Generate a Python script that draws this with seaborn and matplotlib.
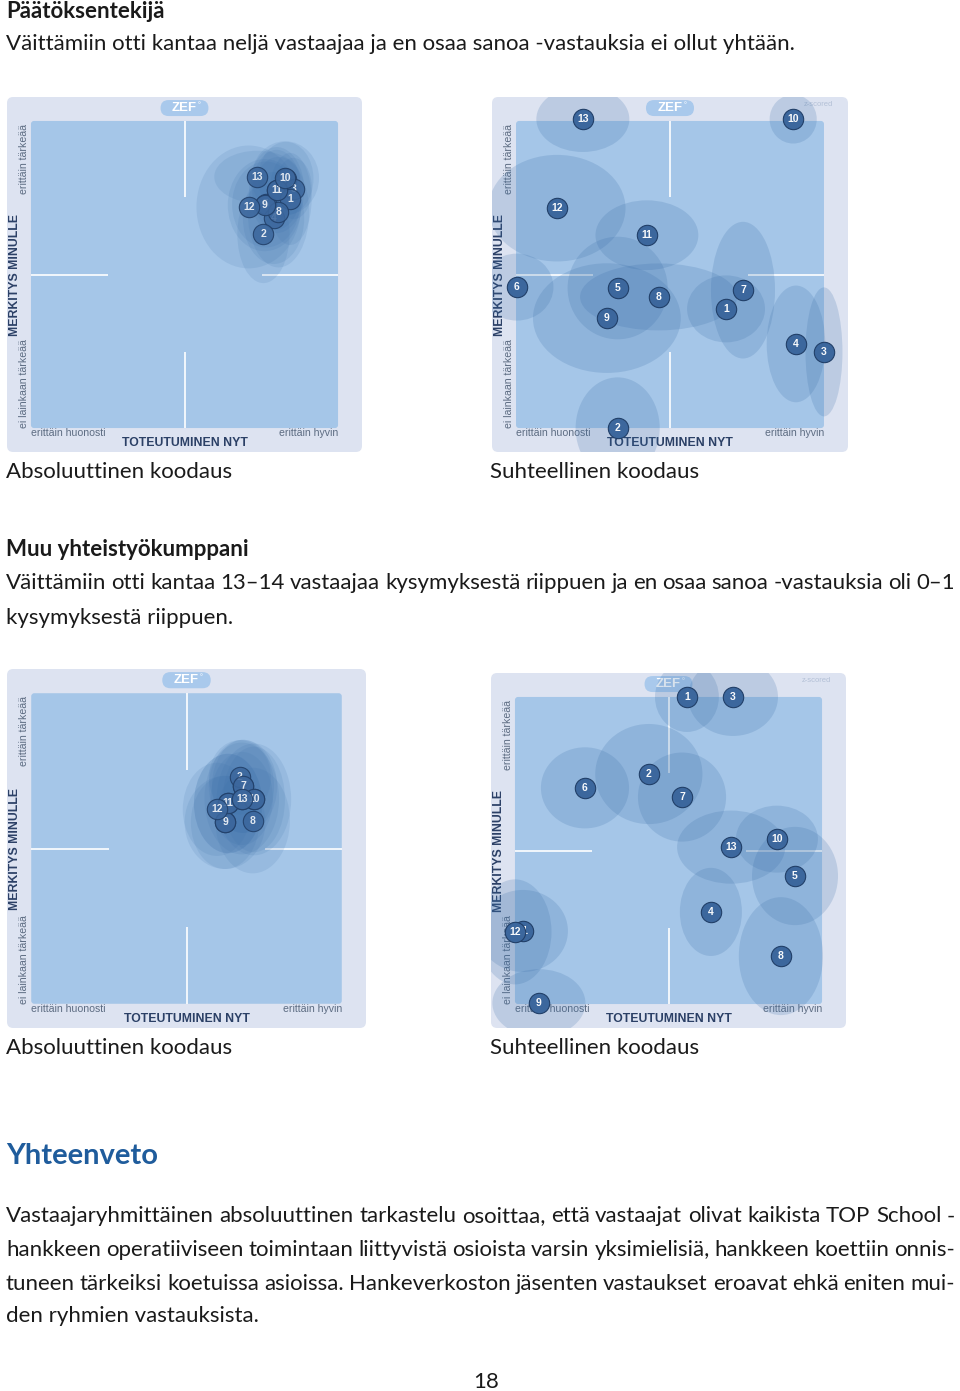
import numpy as np
import pandas as pd
import seaborn as sns
import matplotlib
matplotlib.use("Agg")
import matplotlib.pyplot as plt
from matplotlib.patches import Ellipse, FancyBboxPatch

# ---------------- data ----------------
# Panel 1: Päätöksentekijä, absoluuttinen koodaus (inner square = 0..1)
p1_labels = [5, 6, 7, 4, 3, 1, 2, 8, 9, 11, 10, 12, 13]
p1_x = [0.765, 0.80, 0.83, 0.79, 0.855, 0.844, 0.757, 0.806, 0.761, 0.80, 0.828, 0.709, 0.737]
p1_y = [0.728, 0.776, 0.812, 0.684, 0.78, 0.746, 0.632, 0.703, 0.726, 0.775, 0.814, 0.72, 0.818]
p1_w = [0.22, 0.16, 0.18, 0.20, 0.12, 0.14, 0.17, 0.20, 0.24, 0.18, 0.22, 0.34, 0.28]
p1_h = [0.28, 0.26, 0.24, 0.30, 0.20, 0.30, 0.32, 0.36, 0.30, 0.28, 0.24, 0.40, 0.17]

# Panel 2: Päätöksentekijä, suhteellinen koodaus
p2_labels = [13, 10, 12, 11, 6, 5, 8, 9, 7, 1, 4, 3, 2]
p2_x = [0.217, 0.90, 0.133, 0.425, 0.003, 0.33, 0.463, 0.295, 0.737, 0.682, 0.909, 1.0, 0.33]
p2_y = [1.006, 1.006, 0.716, 0.628, 0.459, 0.456, 0.427, 0.358, 0.449, 0.388, 0.274, 0.248, 0.0]
p2_w = [0.302, 0.153, 0.445, 0.334, 0.237, 0.325, 0.51, 0.48, 0.208, 0.253, 0.19, 0.12, 0.273]
p2_h = [0.214, 0.159, 0.347, 0.227, 0.218, 0.334, 0.218, 0.357, 0.445, 0.218, 0.38, 0.42, 0.33]

# Panel 3: Muu yhteistyökumppani, absoluuttinen koodaus
p3_labels = [3, 4, 5, 6, 1, 2, 7, 9, 8, 11, 10, 12, 13]
p3_x = [0.682, 0.634, 0.717, 0.678, 0.624, 0.672, 0.682, 0.624, 0.713, 0.634, 0.717, 0.598, 0.678]
p3_y = [0.70, 0.645, 0.658, 0.661, 0.584, 0.729, 0.70, 0.584, 0.59, 0.645, 0.658, 0.626, 0.661]
p3_w = [0.20, 0.22, 0.24, 0.20, 0.26, 0.20, 0.22, 0.22, 0.24, 0.22, 0.20, 0.22, 0.24]
p3_h = [0.30, 0.32, 0.36, 0.30, 0.30, 0.24, 0.30, 0.30, 0.34, 0.32, 0.34, 0.30, 0.36]

# Panel 4: Muu yhteistyökumppani, suhteellinen koodaus
p4_labels = [1, 3, 2, 6, 7, 10, 13, 5, 4, 11, 12, 8, 9]
p4_x = [0.56, 0.71, 0.436, 0.228, 0.544, 0.853, 0.704, 0.912, 0.638, 0.026, 0.0, 0.866, 0.078]
p4_y = [1.0, 1.0, 0.749, 0.704, 0.674, 0.537, 0.511, 0.417, 0.30, 0.238, 0.235, 0.156, 0.003]
p4_w = [0.208, 0.293, 0.349, 0.287, 0.287, 0.267, 0.352, 0.28, 0.202, 0.293, 0.238, 0.274, 0.303]
p4_h = [0.228, 0.254, 0.326, 0.264, 0.29, 0.218, 0.238, 0.32, 0.287, 0.267, 0.342, 0.384, 0.221]

x_low, x_high, x_title = "erittäin huonosti", "erittäin hyvin", "TOTEUTUMINEN NYT"
y_high, y_low, y_title = "erittäin tärkeää", "ei lainkaan tärkeää", "MERKITYS MINULLE"

head1 = "Päätöksentekijä"
body1 = "Väittämiin otti kantaa neljä vastaajaa ja en osaa sanoa -vastauksia ei ollut yhtään."
cap_abs = "Absoluuttinen koodaus"
cap_rel = "Suhteellinen koodaus"
head2 = "Muu yhteistyökumppani"
body2 = ["Väittämiin otti kantaa 13–14 vastaajaa kysymyksestä riippuen ja en osaa sanoa -vastauksia oli 0–1",
         "kysymyksestä riippuen."]
head3 = "Yhteenveto"
body3 = ["Vastaajaryhmittäinen absoluuttinen tarkastelu osoittaa, että vastaajat olivat kaikista TOP School -",
         "hankkeen operatiiviseen toimintaan liittyvistä osioista varsin yksimielisiä, hankkeen koettiin onnis-",
         "tuneen tärkeiksi koetuissa asioissa. Hankeverkoston jäsenten vastaukset eroavat ehkä eniten mui-",
         "den ryhmien vastauksista."]
page_no = "18"

# ---------------- style ----------------
sns.set_theme(style="white")
plt.rcParams['font.family'] = ['Lato', 'DejaVu Sans']
NARROW = ['Liberation Sans Narrow', 'Liberation Sans', 'DejaVu Sans']

OUTER = '#dde3f1'
INNER = '#a5c6e8'
ELL = '#3a6ea8'
MARK = '#3c679d'
EDGE = '#213f68'
TXT = '#1a1a1a'

W, H = 960, 1391
fig = plt.figure(figsize=(W / 100, H / 100), dpi=100)
fig.patch.set_facecolor('white')
renderer = fig.canvas.get_renderer()


def fx(x):
    return x / W


def fy(y):
    return 1 - y / H


# body font size fitted to the reference line width
probe = fig.text(0, 0, body1, fontsize=14)
fs = 14 * 790 / probe.get_window_extent(renderer).width
probe.remove()
probe = fig.text(0, 0, head3, fontsize=20, fontweight='bold')
fs_h = 20 * 152 / probe.get_window_extent(renderer).width
probe.remove()


def ptext(x, yc, s, **kw):
    kw.setdefault('fontsize', fs)
    kw.setdefault('color', TXT)
    return fig.text(fx(x), fy(yc + 6.5), s, va='baseline', ha='left', **kw)


def justify(x0, x1, yc, s, **kw):
    words = s.split(' ')
    arts = [ptext(0, yc, w, **kw) for w in words]
    widths = [a.get_window_extent(renderer).width for a in arts]
    gap = (x1 - x0 - sum(widths)) / (len(words) - 1)
    x = x0
    for a, w in zip(arts, widths):
        a.set_x(fx(x))
        x += w + gap


def panel(rect, labels, xs, ys, ws, hs, absolute, zscored):
    l, t, r, b = rect
    ax = fig.add_axes([fx(l), fy(b), (r - l) / W, (b - t) / H])
    a = 0.078
    ax.set_axis_off()
    ax.add_patch(FancyBboxPatch((-a, -a), 1 + 2 * a, 1 + 2 * a,
                                boxstyle="round,pad=0,rounding_size=0.02",
                                fc=OUTER, ec='none', zorder=0))
    ax.add_patch(FancyBboxPatch((0, 0), 1, 1, boxstyle="round,pad=0,rounding_size=0.01",
                                fc=INNER, ec='none', zorder=1))
    for xx, yy in [([0.5, 0.5], [1, 0.752]), ([0.5, 0.5], [0, 0.248]),
                   ([0, 0.25], [0.5, 0.5]), ([0.753, 1], [0.5, 0.5])]:
        ax.plot(xx, yy, color='white', lw=1.4, alpha=0.85, zorder=2, solid_capstyle='butt')
    # ZEF badge
    ax.add_patch(FancyBboxPatch((0.5 - 0.078, 1.042 - 0.026), 0.156, 0.052,
                                boxstyle="round,pad=0,rounding_size=0.026",
                                fc='#a9c9ec', ec='none', zorder=2))
    ax.text(0.5, 1.041, "ZEF", color='white', fontsize=9.5, fontweight='bold',
            family=NARROW, ha='center', va='center', zorder=3)
    ax.text(0.548, 1.054, "°", color='white', fontsize=5, ha='center', va='center', zorder=3)
    if zscored:
        ax.text(1.03, 1.055, "z-scored", color='#b3c0d6', fontsize=5.5, family=NARROW,
                ha='right', va='center', zorder=3)
    # axis texts
    lab = dict(family=NARROW, color='#5d6c82', fontsize=7.6, zorder=3)
    ax.text(0.0, -0.017, x_low, ha='left', va='center', **lab)
    ax.text(1.0, -0.017, x_high, ha='right', va='center', **lab)
    ax.text(-0.023, 0.99, y_high, ha='center', va='top', rotation=90, **lab)
    ax.text(-0.023, 0.0, y_low, ha='center', va='bottom', rotation=90, **lab)
    ttl = dict(family=NARROW, color='#2b4066', fontsize=8.8, fontweight='bold', zorder=3)
    ax.text(0.5, -0.05, x_title, ha='center', va='center', **ttl)
    ax.text(-0.052, 0.5, y_title, ha='center', va='center', rotation=90, **ttl)

    df = pd.DataFrame({'label': labels, 'x': xs, 'y': ys, 'w': ws, 'h': hs})
    ealpha = 0.13 if absolute else 0.2
    for _, row in df.iterrows():
        ax.add_patch(Ellipse((row.x, row.y), row.w, row.h, fc=ELL, ec='none',
                             alpha=ealpha, zorder=3))
    malpha = 0.88 if absolute else 1.0
    for i in range(len(df)):
        sub = df.iloc[[i]]
        sns.scatterplot(data=sub, x='x', y='y', ax=ax, s=215, color=MARK, edgecolor=EDGE,
                        linewidth=0.8, alpha=malpha, zorder=5 + 2 * i, legend=False)
        ax.text(sub.x.iloc[0], sub.y.iloc[0], str(int(sub.label.iloc[0])), color='white',
                fontsize=7.5, fontweight='bold', family=['Liberation Sans', 'DejaVu Sans'],
                ha='center', va='center', zorder=6 + 2 * i,
                alpha=0.85 if absolute else 0.97)
    ax.set_xlim(-a, 1 + a)
    ax.set_ylim(-a, 1 + a)
    ax.set_xlabel('')
    ax.set_ylabel('')
    return ax


# ---------------- page text ----------------
ptext(6, 12, head1, fontweight='bold')
ptext(6, 44, body1)

panel((7, 97, 362, 452), p1_labels, p1_x, p1_y, p1_w, p1_h, True, False)
panel((492, 97, 848, 452), p2_labels, p2_x, p2_y, p2_w, p2_h, False, True)

ptext(6, 472, cap_abs)
ptext(490, 472, cap_rel)

ptext(6, 549, head2, fontweight='bold')
justify(6, 955, 583, body2[0])
ptext(6, 617, body2[1])

panel((7, 669, 366, 1028), p3_labels, p3_x, p3_y, p3_w, p3_h, True, False)
panel((491, 673, 846, 1028), p4_labels, p4_x, p4_y, p4_w, p4_h, False, True)

ptext(6, 1048, cap_abs)
ptext(490, 1048, cap_rel)

fig.text(fx(6), fy(1164), head3, fontsize=fs_h, fontweight='bold', color='#1f5c9c',
         va='baseline', ha='left')

line_y = [1216, 1250, 1283, 1316]
for i, (s, yc) in enumerate(zip(body3, line_y)):
    if i < len(body3) - 1:
        justify(6, 955, yc, s)
    else:
        ptext(6, yc, s)

fig.text(fx(486), fy(1381 + 6.5), page_no, fontsize=fs, color=TXT, ha='center', va='baseline')

fig.savefig("out.png", dpi=100, facecolor='white')
